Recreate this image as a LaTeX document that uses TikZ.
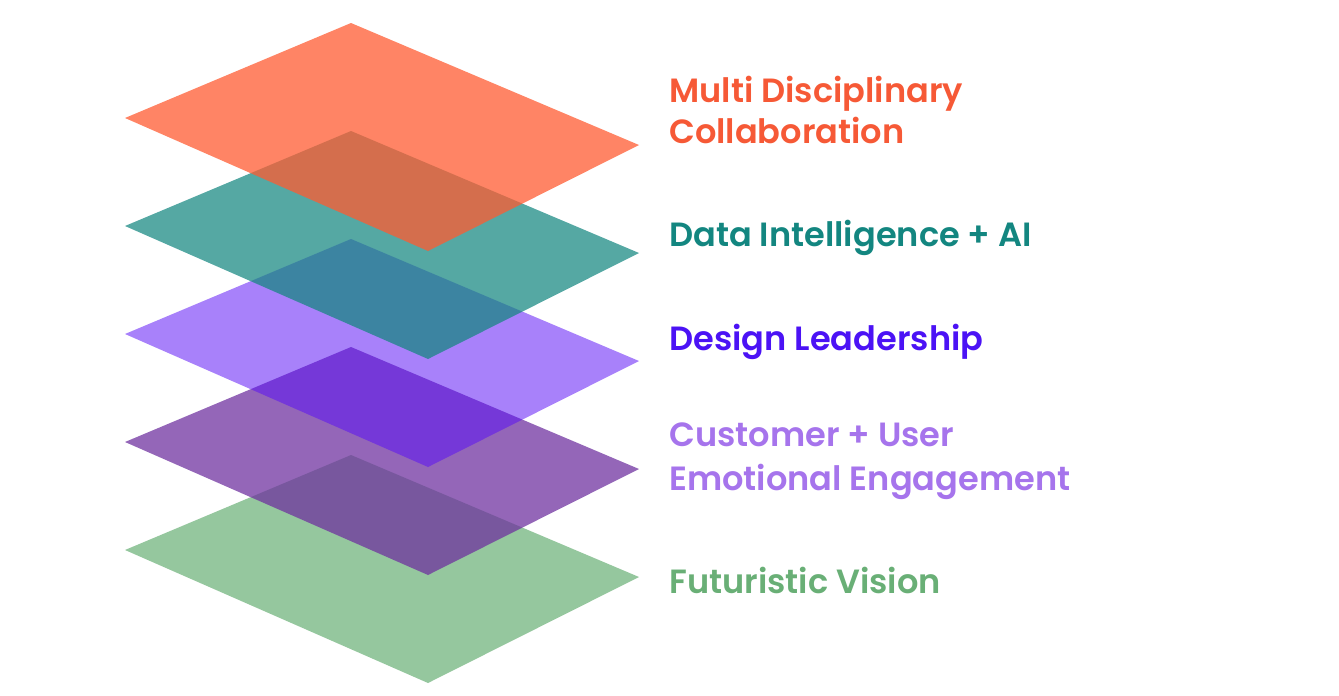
\documentclass[tikz,border=0pt]{standalone}
\usepackage{fontspec}
\newfontfamily\labfont{Poppins SemiBold}
\definecolor{orng}{RGB}{255,91,49}
\definecolor{tealc}{RGB}{19,134,128}
\definecolor{viol}{RGB}{88,14,246}
\definecolor{purp}{RGB}{111,49,159}
\definecolor{grn}{RGB}{104,175,117}
\definecolor{torng}{RGB}{246,89,54}
\definecolor{tteal}{RGB}{19,134,128}
\definecolor{tviol}{RGB}{75,18,245}
\definecolor{tpurp}{RGB}{166,116,236}
\definecolor{tgrn}{RGB}{105,175,118}
\tikzset{
  lab/.style={anchor=base west, align=left, inner sep=0pt,
    font=\labfont\fontsize{25.2}{30.5}\selectfont},
}
\begin{document}
\begin{tikzpicture}[x=0.75pt,y=-0.75pt]
\useasboundingbox (0,0) rectangle (1339,696);
\foreach \i/\c/\o in {4/grn/0.70, 3/purp/0.74, 2/viol/0.52, 1/tealc/0.72, 0/orng/0.75}{
  \fill[\c, fill opacity=\o, yshift=-\i*108*0.75pt]
    (125,118) -- (351,23) -- (639,145) -- (428,251) -- cycle;
}
\node[lab, text=torng] (l1) at (669,143) {Multi Disciplinary\\Collaboration};
\node[lab, text=tteal] (l2) at (669,246) {Data Intelligence + AI};
\node[lab, text=tviol] (l3) at (669,350) {Design Leadership};
\node[lab, text=tpurp, font=\labfont\fontsize{25.2}{32.5}\selectfont] (l4) at (669,490) {Customer + User\\Emotional Engagement};
\node[lab, text=tgrn] (l5) at (669,593) {Futuristic Vision};
\end{tikzpicture}
\end{document}
